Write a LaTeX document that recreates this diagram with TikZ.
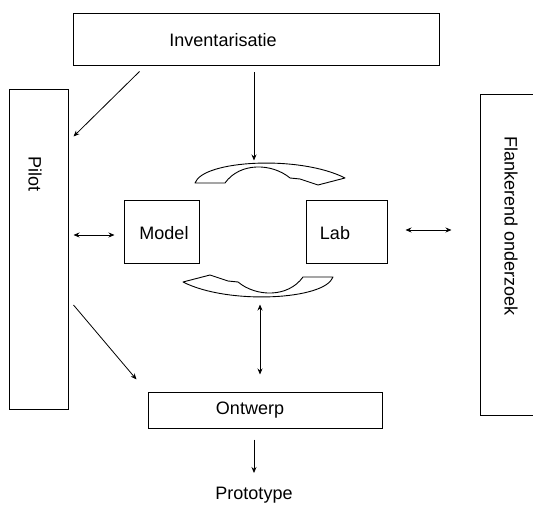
\documentclass[tikz,border=0pt]{standalone}
\usepackage{fontspec}
\setmainfont{Liberation Sans}
\usetikzlibrary{arrows.meta}
\begin{document}
\begin{tikzpicture}[x=1pt,y=-1pt,
  box/.style={draw, line width=1pt, inner sep=0pt},
  lbl/.style={font=\fontsize{18}{20}\selectfont, inner sep=0pt},
  arr/.style={line width=0.8pt, -{Stealth[length=6pt,width=5pt]}},
  darr/.style={line width=0.8pt, {Stealth[length=6pt,width=5pt]}-{Stealth[length=6pt,width=5pt]}},
  curv/.style={draw, line width=0.9pt, fill=white, line join=round}]
\clip (0,0) rectangle (533,505);
\useasboundingbox (0,0) rectangle (533,505);
% boxes
\node[box, minimum width=366pt, minimum height=52pt] (inv) at (256,40) {};
\node[lbl] (invt) at (223,40) {Inventarisatie};
\node[box, minimum width=59pt, minimum height=319pt] (pilot) at (38.5,249.5) {};
\node[lbl, rotate=-90] (pilott) at (35,174) {Pilot};
\node[box, minimum width=80pt, minimum height=320pt] (flank) at (520,255) {};
\node[lbl, rotate=-90] (flankt) at (511,226) {Flankerend onderzoek};
\node[box, minimum width=75pt, minimum height=63pt] (model) at (161.5,232.5) {};
\node[lbl] (modelt) at (164,233) {Model};
\node[box, minimum width=81pt, minimum height=63pt] (lab) at (346.5,232.5) {};
\node[lbl] (labt) at (335,233) {Lab};
\node[box, minimum width=234pt, minimum height=36pt] (ontwerp) at (265,410) {};
\node[lbl] (ontwerpt) at (250,410) {Ontwerp};
\node[lbl] (proto) at (254,495) {Prototype};
% curved block arrows
\path[curv] (195,183) .. controls (203,160) and (300,155) .. (345,178) -- (318,185) -- (300,179) -- (290,178) .. controls (272,163) and (240,162) .. (225,183) -- cycle;
\begin{scope}[rotate around={180:(264,230)}]
\path[curv] (195,183) .. controls (203,160) and (300,155) .. (345,178) -- (318,185) -- (300,179) -- (290,178) .. controls (272,163) and (240,162) .. (225,183) -- cycle;
\end{scope}
% connectors
\draw[arr] ([shift={(67,5)}]inv.south west) -- ([shift={(5,47)}]pilot.north east);
\draw[arr] ([shift={(-2,6)}]inv.south) -- ([shift={(-2,94)}]inv.south);
\draw[darr] ([shift={(5,-14.5)}]pilot.east) -- ([shift={(-9,2.5)}]model.west);
\draw[darr] ([shift={(18,-2.5)}]lab.east) -- ([shift={(-28,-25)}]flank.west);
\draw[arr] ([shift={(5,55.5)}]pilot.east) -- ([shift={(-11,-12)}]ontwerp.north west);
\draw[darr] ([shift={(-5,-87)}]ontwerp.north) -- ([shift={(-5,-17)}]ontwerp.north);
\draw[arr] ([shift={(-11,11)}]ontwerp.south) -- ([shift={(0,-22)}]proto.center);
\end{tikzpicture}
\end{document}
